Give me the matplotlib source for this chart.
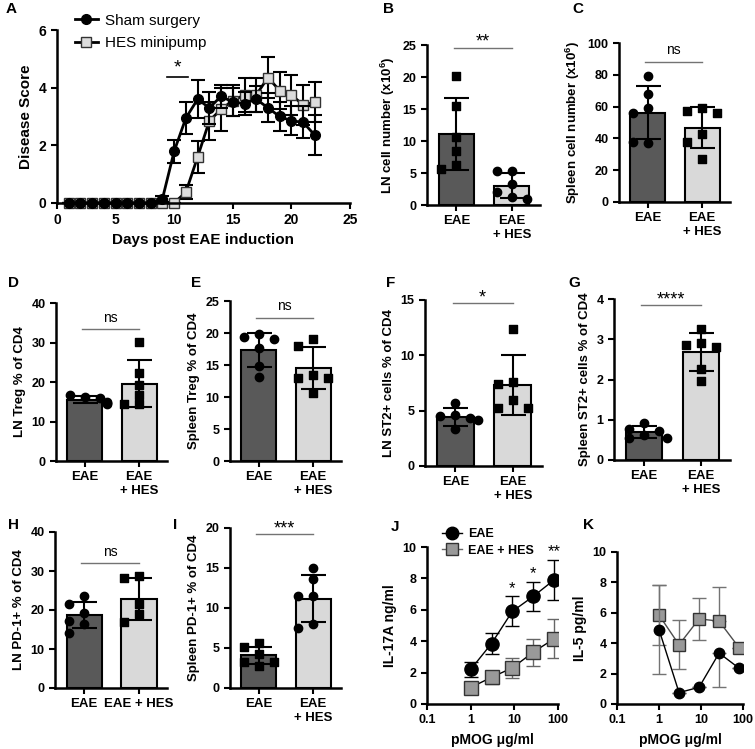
import numpy as np
from matplotlib import pyplot as plt
from matplotlib.lines import Line2D

plt.rcParams['font.family'] = ['Liberation Sans', 'DejaVu Sans']
plt.rcParams['font.weight'] = 'bold'
plt.rcParams['mathtext.fontset'] = 'custom'
plt.rcParams['mathtext.rm'] = 'Liberation Sans:bold'
plt.rcParams['mathtext.it'] = 'Liberation Sans:bold'
plt.rcParams['mathtext.bf'] = 'Liberation Sans:bold'

#%% Data

days = np.arange(1, 23)
sham_score = [0, 0, 0, 0, 0, 0, 0, 0, 0.15, 1.8, 2.95, 3.6, 3.3, 3.7, 3.5, 3.45, 3.6, 3.3, 3.0, 2.85, 2.8, 2.35]
sham_err = [0, 0, 0, 0, 0, 0, 0, 0, 0.1, 0.4, 0.55, 0.65, 0.55, 0.4, 0.5, 0.4, 0.45, 0.5, 0.5, 0.5, 0.55, 0.7]
hes_score = [0, 0, 0, 0, 0, 0, 0, 0, 0, 0, 0.38, 1.6, 2.85, 3.25, 3.55, 3.75, 3.75, 4.35, 3.9, 3.75, 3.4, 3.5]
hes_err = [0, 0, 0, 0, 0, 0, 0, 0, 0, 0, 0.25, 0.55, 0.65, 0.75, 0.55, 0.6, 0.6, 0.7, 0.65, 0.7, 0.7, 0.7]

groups = ['EAE', 'EAE\n+ HES']
groups_h = ['EAE', 'EAE + HES']

ln_cells_eae = [20.2, 15.4, 10.7, 8.4, 6.3, 5.6]
ln_cells_hes = [5.3, 5.3, 3.3, 2.1, 1.2, 1.0]
spleen_cells_eae = [79, 68, 59, 56, 37, 38]
spleen_cells_hes = [59, 57.5, 56, 43, 37.5, 27]
ln_treg_eae = [16.3, 16.6, 16.0, 15.0, 14.5, 14.6]
ln_treg_hes = [30.2, 22.2, 19.2, 16.8, 14.5, 14.5]
spleen_treg_eae = [19.9, 19.4, 19.0, 17.6, 14.9, 13.2]
spleen_treg_hes = [19.0, 18.0, 13.5, 13.0, 13.0, 10.7]
ln_st2_eae = [5.7, 4.6, 4.5, 4.3, 4.2, 3.3]
ln_st2_hes = [12.4, 7.6, 7.4, 6.0, 5.2, 5.2]
spleen_st2_eae = [0.93, 0.78, 0.72, 0.62, 0.55, 0.55]
spleen_st2_hes = [3.26, 2.90, 2.85, 2.80, 2.27, 1.97]
ln_pd1_eae = [23.6, 21.5, 19.3, 17.2, 16.5, 14.2]
ln_pd1_hes = [28.8, 28.2, 21.6, 19.0, 16.9]
spleen_pd1_eae = [5.6, 5.1, 4.3, 3.3, 3.3, 2.8]
spleen_pd1_hes = [15.0, 13.6, 11.5, 11.5, 8.0, 7.5]

pmog = [1, 3, 9, 27, 81]
il17_eae = [2.2, 3.85, 5.9, 6.85, 7.9]
il17_eae_err = [0.45, 0.65, 0.95, 0.95, 1.3]
il17_hes = [1.05, 1.7, 2.3, 3.3, 4.15]
il17_hes_err = [0.25, 0.4, 0.65, 0.85, 1.25]
il17_stars = ['', '', '*', '*', '**']

il5_eae = [4.9, 0.75, 1.1, 3.35, 2.35]
il5_eae_lo = [2.9, 0, 0, 2.25, 0]
il5_eae_hi = [2.9, 0, 0, 0, 0]
il5_hes = [5.85, 3.9, 5.6, 5.45, 3.7]
il5_hes_lo = [2.0, 1.6, 1.4, 0, 0]
il5_hes_hi = [2.0, 1.6, 1.4, 2.25, 0]

#%% Layout helpers

W, H = 755, 749
fig = plt.figure(figsize=(W / 100, H / 100), dpi=100)

def box(l, t, r, b):
    return fig.add_axes([l / W, 1 - b / H, (r - l) / W, (b - t) / H])

def style(ax):
    for s in ['top', 'right']:
        ax.spines[s].set_visible(False)
    for s in ['left', 'bottom']:
        ax.spines[s].set_linewidth(1.8)
    ax.tick_params(width=1.5, length=4, labelsize=9)

def letter(x, y, s):
    fig.text(x / W, 1 - y / H, s, fontsize=11, fontweight='bold', va='top', ha='left')

def swarm(vals, ypx, dpx=15):
    # simple beeswarm offsets in pixels
    placed = []
    offs = []
    for v in vals:
        for o in [0, -dpx, dpx, -dpx / 2, dpx / 2, -1.5 * dpx, 1.5 * dpx]:
            if all(abs(o - po) >= 9 or abs(v - pv) * ypx >= 9 for po, pv in placed):
                break
        placed.append((o, v))
        offs.append(o)
    return offs

def bar_panel(rect, eae, hes, ymax, ystep, ylabel, sig, sig_y, markers, labels=groups):
    ax = box(*rect)
    style(ax)
    hpx = rect[3] - rect[1]
    wpx = rect[2] - rect[0]
    xr = 2.04
    ypx = hpx / ymax
    for i, (vals, col, mk) in enumerate(zip([eae, hes], ['#595959', '#d9d9d9'], markers)):
        m = np.mean(vals)
        sd = np.std(vals, ddof=1)
        ax.bar(i, m, width=0.64, color=col, edgecolor='black', linewidth=1.5, zorder=1)
        ax.errorbar(i, m, yerr=sd, color='black', capsize=9, elinewidth=1.5, capthick=1.5, zorder=3)
        offs = swarm(vals, ypx)
        ax.scatter(i + np.array(offs) * xr / wpx, vals, marker=mk, s=36, color='black', zorder=4, clip_on=False)
    ax.set_xlim(-0.53, 1.51)
    ax.set_ylim(0, ymax)
    ax.set_yticks(np.arange(0, ymax + ystep / 2, ystep))
    ax.set_xticks([0, 1])
    ax.set_xticklabels(labels, fontsize=9.5)
    ax.set_ylabel(ylabel, fontsize=9.5, fontweight='bold')
    ax.plot([-0.05, 1.0], [sig_y, sig_y], color='0.45', lw=1, clip_on=False)
    if sig == 'ns':
        ax.text(0.475, sig_y + ymax * 0.03, sig, ha='center', va='bottom', fontsize=10, fontweight='normal')
    else:
        ax.text(0.475, sig_y - ymax * 0.02, sig, ha='center', va='bottom', fontsize=13, fontweight='normal')
    return ax

#%% Panel A

ax = box(57, 30, 350, 203)
style(ax)
ax.tick_params(labelsize=10)
ax.errorbar(days, sham_score, yerr=sham_err, color='black', marker='o', ms=7, lw=2,
            capsize=5, elinewidth=1.5, capthick=1.5, clip_on=False, zorder=3)
ax.errorbar(days, hes_score, yerr=hes_err, color='black', marker='s', ms=7, mfc='#dcdcdc', mec='#333333',
            lw=2, capsize=5, elinewidth=1.5, capthick=1.5, clip_on=False, zorder=2)
ax.set_xlim(0, 25)
ax.set_ylim(0, 6)
ax.set_xticks([0, 5, 10, 15, 20, 25])
ax.set_yticks([0, 2, 4, 6])
ax.set_xlabel('Days post EAE induction', fontsize=11, fontweight='bold')
ax.set_ylabel('Disease Score', fontsize=11, fontweight='bold')
ax.plot([9.4, 11.2], [4.37, 4.37], color='black', lw=1.2)
ax.text(10.3, 4.4, '*', ha='center', va='bottom', fontsize=14, fontweight='normal')
handles_a = [Line2D([], [], color='black', lw=2, marker='o', ms=7),
             Line2D([], [], color='black', lw=2, marker='s', ms=7, mfc='#dcdcdc', mec='#333333')]
ax.legend(handles_a, ['Sham surgery', 'HES minipump'], loc='upper left', bbox_to_anchor=(61 / W, 1 - 0 / H),
          bbox_transform=fig.transFigure, frameon=False, handlelength=1.5, handletextpad=0.5,
          labelspacing=0.55, prop={'weight': 'normal', 'size': 11})

#%% Bar panels

bar_panel((427, 45, 540, 205), ln_cells_eae, ln_cells_hes, 25, 5, 'LN cell number (x10$^{6}$)', '**', 24.6, ['s', 'o'])
bar_panel((619, 43, 730, 202), spleen_cells_eae, spleen_cells_hes, 100, 20, 'Spleen cell number (x10$^{6}$)', 'ns', 88, ['o', 's'])
bar_panel((56, 303, 167, 461), ln_treg_eae, ln_treg_hes, 40, 10, 'LN Treg % of CD4', 'ns', 33.3, ['o', 's'])
bar_panel((230, 301, 341, 461), spleen_treg_eae, spleen_treg_hes, 25, 5, 'Spleen Treg % of CD4', 'ns', 22.4, ['o', 's'])
bar_panel((425, 300, 542, 466), ln_st2_eae, ln_st2_hes, 15, 5, 'LN ST2+ cells % of CD4', '*', 14.7, ['o', 's'])
bar_panel((614, 299, 730, 460), spleen_st2_eae, spleen_st2_hes, 4, 1, 'Spleen ST2+ cells % of CD4', '****', 3.85, ['o', 's'])
bar_panel((55, 532, 167, 688), ln_pd1_eae, ln_pd1_hes, 40, 10, 'LN PD-1+ % of CD4', 'ns', 32.0, ['o', 's'], groups_h)
bar_panel((230, 528, 341, 688), spleen_pd1_eae, spleen_pd1_hes, 20, 5, 'Spleen PD-1+ % of CD4', '***', 19.2, ['s', 'o'])

#%% Panel J

ax = box(427, 547, 558, 704)
style(ax)
ax.errorbar(pmog, il17_eae, yerr=il17_eae_err, color='black', marker='o', ms=9.5, lw=1,
            capsize=5, elinewidth=1, capthick=1, zorder=3)
ax.errorbar(pmog, il17_hes, yerr=il17_hes_err, color='black', ecolor='0.4', marker='s', ms=9.5, mfc='#999999',
            mec='#333333', lw=1, capsize=5, elinewidth=1, capthick=1, zorder=2)
for x, y, e, s in zip(pmog, il17_eae, il17_eae_err, il17_stars):
    if s:
        ax.text(x, y + e + 0.05, s, ha='center', va='bottom', fontsize=12, fontweight='normal')
ax.set_xscale('log')
ax.set_xlim(0.1, 100)
ax.set_ylim(0, 10)
ax.set_xticks([0.1, 1, 10, 100])
ax.set_xticklabels(['0.1', '1', '10', '100'])
ax.minorticks_off()
ax.set_yticks([0, 2, 4, 6, 8, 10])
ax.set_xlabel('pMOG μg/ml', fontsize=10, fontweight='bold', labelpad=5)
ax.set_ylabel('IL-17A ng/ml', fontsize=10, fontweight='bold')
handles_j = [Line2D([], [], color='black', lw=1, marker='o', ms=9),
             Line2D([], [], color='0.4', lw=1, marker='s', ms=9, mfc='#999999', mec='#333333')]
ax.legend(handles_j, ['EAE', 'EAE + HES'], loc='upper left', bbox_to_anchor=(431 / W, 1 - 517 / H),
          bbox_transform=fig.transFigure, frameon=False, handlelength=1.6, handletextpad=0.5,
          labelspacing=0.35, prop={'weight': 'bold', 'size': 9})

#%% Panel K

ax = box(617, 552, 743, 704)
style(ax)
ax.errorbar(pmog, il5_eae, yerr=[il5_eae_lo, il5_eae_hi], color='black', ecolor='0.45', marker='o', ms=7.5, lw=1,
            capsize=5, elinewidth=1, capthick=1, zorder=3)
ax.errorbar(pmog, il5_hes, yerr=[il5_hes_lo, il5_hes_hi], color='0.3', ecolor='0.45', marker='s', ms=9, mfc='#999999',
            mec='#333333', lw=1, capsize=5, elinewidth=1, capthick=1, zorder=2)
ax.set_xscale('log')
ax.set_xlim(0.1, 100)
ax.set_ylim(0, 10)
ax.set_xticks([0.1, 1, 10, 100])
ax.set_xticklabels(['0.1', '1', '10', '100'])
ax.minorticks_off()
ax.set_yticks([0, 2, 4, 6, 8, 10])
ax.set_xlabel('pMOG μg/ml', fontsize=10, fontweight='bold', labelpad=5)
ax.set_ylabel('IL-5 pg/ml', fontsize=10, fontweight='bold')

#%% Panel letters

letter(6, 2, 'A')
letter(383, 2, 'B')
letter(572, 2, 'C')
letter(8, 276, 'D')
letter(191, 276, 'E')
letter(386, 276, 'F')
letter(568, 276, 'G')
letter(8, 518, 'H')
letter(173, 518, 'I')
letter(391, 520, 'J')
letter(583, 518, 'K')

plt.savefig('out.png', dpi=100)
